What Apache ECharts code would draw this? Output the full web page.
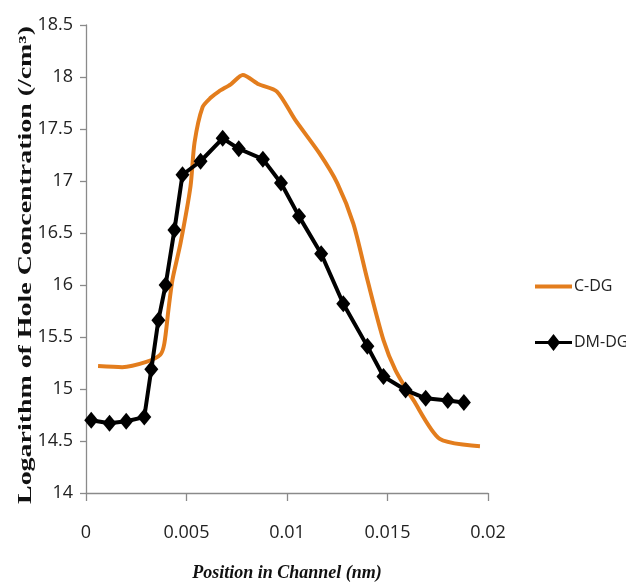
<!DOCTYPE html>
<html>
<head>
<meta charset="utf-8">
<script src="https://cdn.jsdelivr.net/npm/echarts@6/dist/echarts.min.js"></script>
<style>
html,body{margin:0;padding:0;background:#fff;}
#chart{width:626px;height:583px;}
</style>
</head>
<body>
<div id="chart"></div>
<script>
// C-DG (orange curve)
const cdgX = [0.0006, 0.0018, 0.003, 0.0037, 0.0039, 0.0041, 0.0043, 0.0047, 0.0052, 0.0054, 0.0058, 0.0062, 0.0066, 0.0072, 0.0078, 0.0086, 0.0095, 0.0104, 0.0116, 0.0125, 0.0133, 0.014, 0.0148, 0.0154, 0.0163, 0.0176, 0.0196];
const cdgY = [15.22, 15.21, 15.26, 15.33, 15.44, 15.76, 16.05, 16.4, 16.95, 17.37, 17.71, 17.8, 17.86, 17.93, 18.02, 17.93, 17.86, 17.59, 17.27, 16.98, 16.59, 16.05, 15.47, 15.18, 14.89, 14.52, 14.45];
// DM-DG (black with diamonds)
const dmX = [0.00026, 0.00117, 0.002, 0.0029, 0.00325, 0.0036, 0.00396, 0.0044, 0.0048, 0.0057, 0.0068, 0.0076, 0.0088, 0.0097, 0.0106, 0.0117, 0.0128, 0.014, 0.0148, 0.0159, 0.0169, 0.018, 0.0188];
const dmY = [14.70, 14.67, 14.69, 14.73, 15.19, 15.66, 16.0, 16.53, 17.06, 17.19, 17.41, 17.31, 17.21, 16.98, 16.66, 16.30, 15.82, 15.41, 15.12, 14.99, 14.91, 14.89, 14.87];
const seriesNames = ['C-DG', 'DM-DG'];
const xTickLabels = ['0', '0.005', '0.01', '0.015', '0.02'];
const yTitle = 'Logarithm of Hole Concentration (/cm\u00B3)';
const xTitle = 'Position in Channel (nm)';

const cdgData = cdgX.map((x, i) => [x, cdgY[i]]);
const dmData = dmX.map((x, i) => [x, dmY[i]]);

const chart = echarts.init(document.getElementById('chart'), null, {renderer: 'canvas'});
const tickFont = '"Open Sans", "Noto Sans", sans-serif';
const lineIcon = 'path://M0,6.5 L37,6.5 L37,10.5 L0,10.5 Z M0,0 L0.01,0 M0,17 L0.01,17';
const diamondIcon = 'path://M0,7 L13,7 L18.5,0 L24,7 L37,7 L37,10 L24,10 L18.5,17 L13,10 L0,10 Z';
chart.setOption({
  animation: false,
  backgroundColor: '#fff',
  grid: {left: 86, right: 138, top: 25, bottom: 90, outerBoundsMode: 'none'},
  legend: {
    orient: 'vertical',
    left: 530,
    top: 273,
    itemWidth: 37,
    itemHeight: 17,
    itemGap: 39,
    symbolKeepAspect: false,
    data: [
      {name: seriesNames[0], icon: lineIcon},
      {name: seriesNames[1], icon: diamondIcon}
    ],
    textStyle: {fontFamily: tickFont, fontSize: 16, color: '#222', padding: [0, 0, 0, -3]}
  },
  xAxis: {
    type: 'value',
    min: 0, max: 0.02, interval: 0.005,
    name: xTitle,
    nameLocation: 'middle',
    nameGap: 71,
    nameTextStyle: {fontFamily: 'Liberation Serif', fontWeight: 'bold', fontStyle: 'italic', fontSize: 18, color: '#111'},
    axisLine: {lineStyle: {color: '#8a8a8a', width: 1.3}},
    axisTick: {show: true, length: 8, lineStyle: {color: '#8a8a8a', width: 1.3}},
    splitLine: {show: false},
    axisLabel: {
      margin: 31,
      fontFamily: tickFont, fontSize: 18, color: '#222',
      formatter: v => xTickLabels[Math.round(v / 0.005)]
    }
  },
  yAxis: {
    type: 'value',
    min: 14, max: 18.5, interval: 0.5,
    axisLine: {show: true, lineStyle: {color: '#8a8a8a', width: 1.3}},
    axisTick: {show: true, length: 6, lineStyle: {color: '#8a8a8a', width: 1.3}},
    splitLine: {show: false},
    axisLabel: {margin: 13, fontFamily: tickFont, fontSize: 18, color: '#222'}
  },
  graphic: [{
    type: 'text',
    x: 26, y: 265,
    rotation: Math.PI / 2,
    scaleX: 1.55,
    style: {
      text: yTitle,
      font: 'bold 18px "Liberation Serif"',
      fill: '#111',
      textAlign: 'center',
      textVerticalAlign: 'middle'
    }
  }],
  series: [
    {
      name: seriesNames[0],
      type: 'line',
      data: cdgData,
      smooth: 0.25,
      symbol: 'none',
      lineStyle: {color: '#E37D1D', width: 4},
      itemStyle: {color: '#E37D1D'},
      z: 2
    },
    {
      name: seriesNames[1],
      type: 'line',
      data: dmData,
      symbol: 'diamond',
      symbolSize: [14, 17],
      lineStyle: {color: '#000', width: 4},
      itemStyle: {color: '#000'},
      z: 3
    }
  ]
});
</script>
</body>
</html>
